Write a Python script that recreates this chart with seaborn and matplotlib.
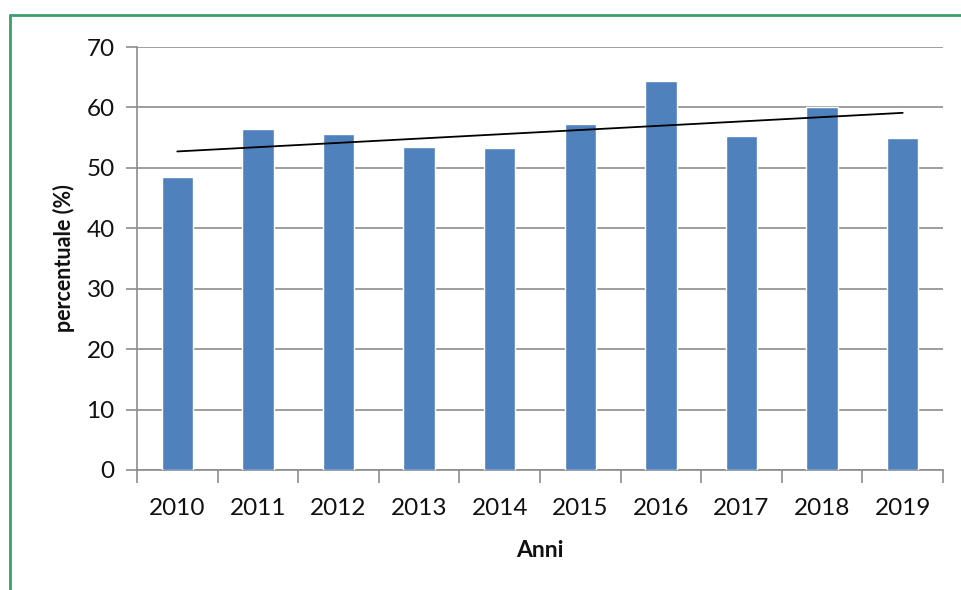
import numpy as np
import pandas as pd
import matplotlib
matplotlib.use("Agg")
import matplotlib.pyplot as plt
from matplotlib.lines import Line2D
from matplotlib.ticker import FixedLocator
import seaborn as sns

years = ["2010", "2011", "2012", "2013", "2014", "2015", "2016", "2017", "2018", "2019"]
values = [48.5, 56.5, 55.6, 53.5, 53.3, 57.2, 64.3, 55.2, 60.1, 54.9]
yticks = [0, 10, 20, 30, 40, 50, 60, 70]

sns.set_theme(style="white")
plt.rcParams['font.family'] = ['Lato', 'DejaVu Sans']

df = pd.DataFrame({"Anni": years, "percentuale": values})

fig = plt.figure(figsize=(9.62, 5.90), dpi=100)
ax = fig.add_axes([137/962, 1-470/590, (943-137)/962, (470-47)/590])

sns.barplot(data=df, x="Anni", y="percentuale", color="#4F81BD", width=0.39,
            saturation=1, ax=ax, zorder=3)

# linear trend line
xs = np.arange(len(values))
coef = np.polyfit(xs, values, 1)
ax.plot(xs, np.polyval(coef, xs), color="black", lw=1.3, zorder=4)

ax.set_ylim(0, 70)
ax.set_xlim(-0.5, len(years) - 0.5)
ax.yaxis.set_major_locator(FixedLocator(yticks))
ax.grid(axis="y", color="#8c8c8c", lw=1.2, zorder=0)
ax.set_axisbelow(True)

for s in ["top", "right"]:
    ax.spines[s].set_visible(False)
for s in ["left", "bottom"]:
    ax.spines[s].set_color("#8c8c8c")
    ax.spines[s].set_linewidth(1.2)

ax.tick_params(axis="y", which="major", direction="out", length=8, width=1.2,
               color="#8c8c8c", labelsize=17.5, labelcolor="#111111", pad=8, left=True)
ax.xaxis.set_minor_locator(FixedLocator(np.arange(-0.5, len(years), 1.0)))
ax.tick_params(axis="x", which="major", length=0, labelsize=17.5, labelcolor="#111111", pad=20)
ax.tick_params(axis="x", which="minor", direction="out", length=9, width=1.2,
               color="#8c8c8c", bottom=True)

ax.set_xlabel("Anni", fontsize=16.5, fontweight="bold", color="#111111", labelpad=15)
ax.set_ylabel("percentuale (%)", fontsize=15.5, fontweight="bold", color="#111111", labelpad=8)

# green frame (top and left edges visible)
green = "#3a9f6c"
fig.add_artist(Line2D([10/962, 1.0], [1-15/590, 1-15/590], color=green, lw=2,
                      transform=fig.transFigure))
fig.add_artist(Line2D([10/962, 10/962], [0.0, 1-15/590], color=green, lw=2,
                      transform=fig.transFigure))

fig.savefig("out.png", dpi=100)
